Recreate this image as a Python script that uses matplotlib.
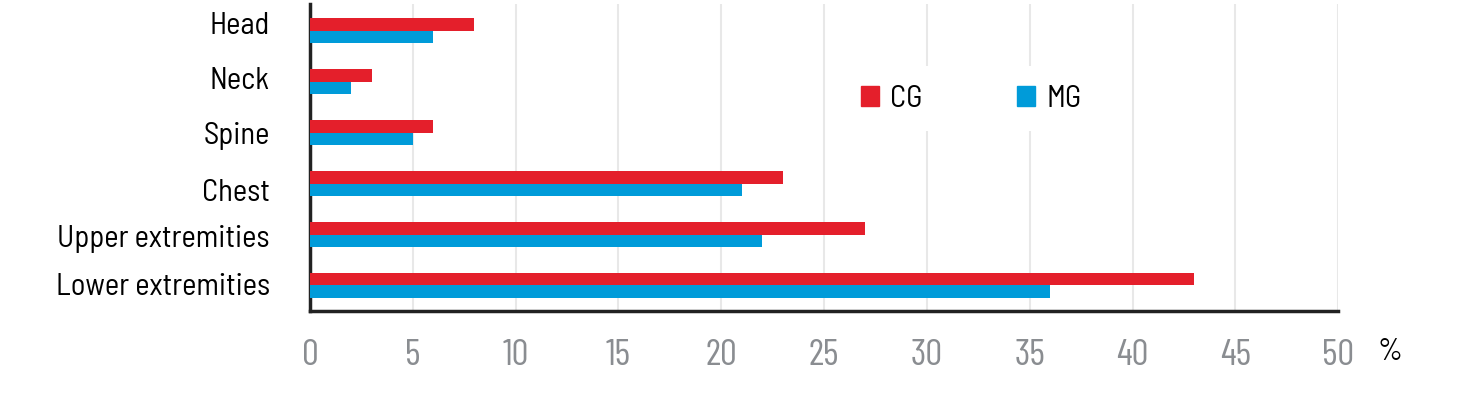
import matplotlib as mpl
mpl.use('Agg')
import matplotlib.pyplot as plt
import matplotlib.transforms as mtransforms
import numpy as np
from matplotlib.patches import Patch

plt.rcParams['font.family'] = ['Barlow Semi Condensed', 'DejaVu Sans']

# data
categories = ['Head', 'Neck', 'Spine', 'Chest', 'Upper extremities', 'Lower extremities']
cg_values = [8, 3, 6, 23, 27, 43]
mg_values = [6, 2, 5, 21, 22, 36]
x_ticks = [0, 5, 10, 15, 20, 25, 30, 35, 40, 45, 50]

red = '#e41f2b'
blue = '#009bd9'

fig = plt.figure(figsize=(14.69, 3.93), dpi=100)
ax = fig.add_axes([0.211, 0.2087, 0.700, 0.781])

y = np.arange(len(categories))
h = 0.25
ax.barh(y - h / 2, cg_values, height=h, color=red, zorder=3)
ax.barh(y + h / 2, mg_values, height=h, color=blue, zorder=3)

ax.set_ylim(len(categories) - 0.5, -0.52)
ax.set_xlim(0, 50)
ax.set_yticks(y)
ax.set_yticklabels(categories, fontsize=22)
ax.set_xticks(x_ticks)
ax.set_xticklabels([str(t) for t in x_ticks], fontsize=27, color='#8a8d91',
                   family=['Barlow Condensed', 'DejaVu Sans'])
ax.tick_params(axis='y', length=0, pad=29)
ax.tick_params(axis='x', length=0, pad=20)

# the category labels in the original sit a little off the bar centres
label_shift_px = [-8, -4, 0, 6, 1, -1]
for lab, dy in zip(ax.get_yticklabels(), label_shift_px):
    off = mtransforms.ScaledTranslation(0, -dy / 100, fig.dpi_scale_trans)
    lab.set_transform(lab.get_transform() + off)

ax.grid(axis='x', color='#e8e8e8', linewidth=1.5, zorder=0)
for s in ['top', 'right']:
    ax.spines[s].set_visible(False)
for s in ['left', 'bottom']:
    ax.spines[s].set_color('#222222')
    ax.spines[s].set_linewidth(2.5)

fig.text(1390 / 1469, 1 - 352 / 393, '%', fontsize=22, ha='center', va='center')

handles = [Patch(color=red, label='CG'), Patch(color=blue, label='MG')]
leg = ax.legend(handles=handles, ncol=2, loc='center', bbox_to_anchor=(0.643, 0.692),
                fontsize=22, frameon=True, edgecolor='none', facecolor='white', framealpha=1,
                handlelength=0.6, handleheight=0.6, handletextpad=0.35, columnspacing=3.1,
                borderpad=0.6)
leg.set_zorder(5)

fig.savefig('out.png', dpi=100)
